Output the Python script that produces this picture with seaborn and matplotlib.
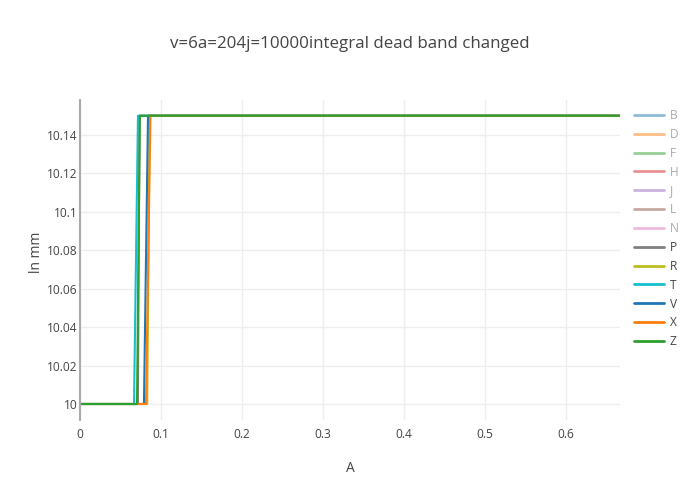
import pandas as pd
import numpy as np
import matplotlib.pyplot as plt
import seaborn as sns
from matplotlib.lines import Line2D

# series names, colours (plotly default colorway)
series_names = ['B', 'D', 'F', 'H', 'J', 'L', 'N', 'P', 'R', 'T', 'V', 'X', 'Z']
series_colors = ['#1f77b4', '#ff7f0e', '#2ca02c', '#d62728', '#9467bd', '#8c564b',
                 '#e377c2', '#7f7f7f', '#bcbd22', '#17becf', '#1f77b4', '#ff7f0e', '#2ca02c']
# traces hidden in the original (legend only)
hidden = ['B', 'D', 'F', 'H', 'J', 'L', 'N']

# step points for the visible traces: x where the rise starts / ends
x_end = 0.667
rise_start = {'P': 0.0715, 'R': 0.0830, 'T': 0.0667, 'V': 0.0790, 'X': 0.0815, 'Z': 0.0704}
rise_end = {'P': 0.0735, 'R': 0.0860, 'T': 0.0716, 'V': 0.0840, 'X': 0.0870, 'Z': 0.0740}
y_low = 10.0
y_high = 10.15

rows = []
for name in series_names:
    if name in hidden:
        continue
    xs = [0.0, rise_start[name], rise_end[name], x_end]
    ys = [y_low, y_low, y_high, y_high]
    for i, (x, y) in enumerate(zip(xs, ys)):
        rows.append({'A': x, 'ln mm': y, 'series': name, 'order': i})
df = pd.DataFrame(rows)

sns.set_style('white')
plt.rcParams['font.family'] = ['Open Sans', 'DejaVu Sans']

fig = plt.figure(figsize=(7, 5), dpi=100)
ax = fig.add_axes([80 / 700, 80 / 500, 540 / 700, 320 / 500])

visible = [n for n in series_names if n not in hidden]
palette = {n: series_colors[series_names.index(n)] for n in visible}
sns.lineplot(data=df, x='A', y='ln mm', hue='series', hue_order=visible,
             palette=palette, sort=False, estimator=None, units='series',
             linewidth=1.5, legend=False, ax=ax)

ax.set_xlim(0, x_end)
ax.set_ylim(9.99167, 10.1582)
ax.set_xticks([0, 0.1, 0.2, 0.3, 0.4, 0.5, 0.6])
ax.set_xticklabels(['0', '0.1', '0.2', '0.3', '0.4', '0.5', '0.6'])
yt = [10, 10.02, 10.04, 10.06, 10.08, 10.1, 10.12, 10.14]
ax.set_yticks(yt)
ax.set_yticklabels(['10', '10.02', '10.04', '10.06', '10.08', '10.1', '10.12', '10.14'])
ax.grid(True, color='#eeeeee', linewidth=1)
ax.set_axisbelow(True)
for s in ['top', 'right', 'bottom']:
    ax.spines[s].set_visible(False)
ax.spines['left'].set_color('#aaaaaa')
ax.spines['left'].set_linewidth(1.5)
ax.tick_params(axis='x', length=0, labelsize=8.6, colors='#444444', pad=6)
ax.tick_params(axis='y', length=0, labelsize=8.6, colors='#444444', pad=2)

ax.set_xlabel('A', fontsize=10, color='#444444', labelpad=14)
ax.set_ylabel('')
fig.text(37 / 700, 1 - 252 / 500, 'ln mm', rotation=90, ha='center', va='center',
         fontsize=10, color='#444444')
fig.text(0.5, 1 - 44 / 500, 'v=6a=204j=10000integral dead band changed',
         ha='center', va='center', fontsize=12.2, color='#444444')

handles = []
for name, col in zip(series_names, series_colors):
    a = 0.5 if name in hidden else 1.0
    handles.append(Line2D([0], [0], color=col, alpha=a, linewidth=2))
leg = fig.legend(handles, series_names, loc='upper left',
                 bbox_to_anchor=(634 / 700, 1 - 109 / 500), frameon=False,
                 fontsize=8.6, handlelength=2.5, handletextpad=0.5,
                 labelspacing=0.49, borderaxespad=0, borderpad=0)
for txt, name in zip(leg.get_texts(), series_names):
    txt.set_color('#aaaaaa' if name in hidden else '#444444')

fig.savefig('out.png', dpi=100)
